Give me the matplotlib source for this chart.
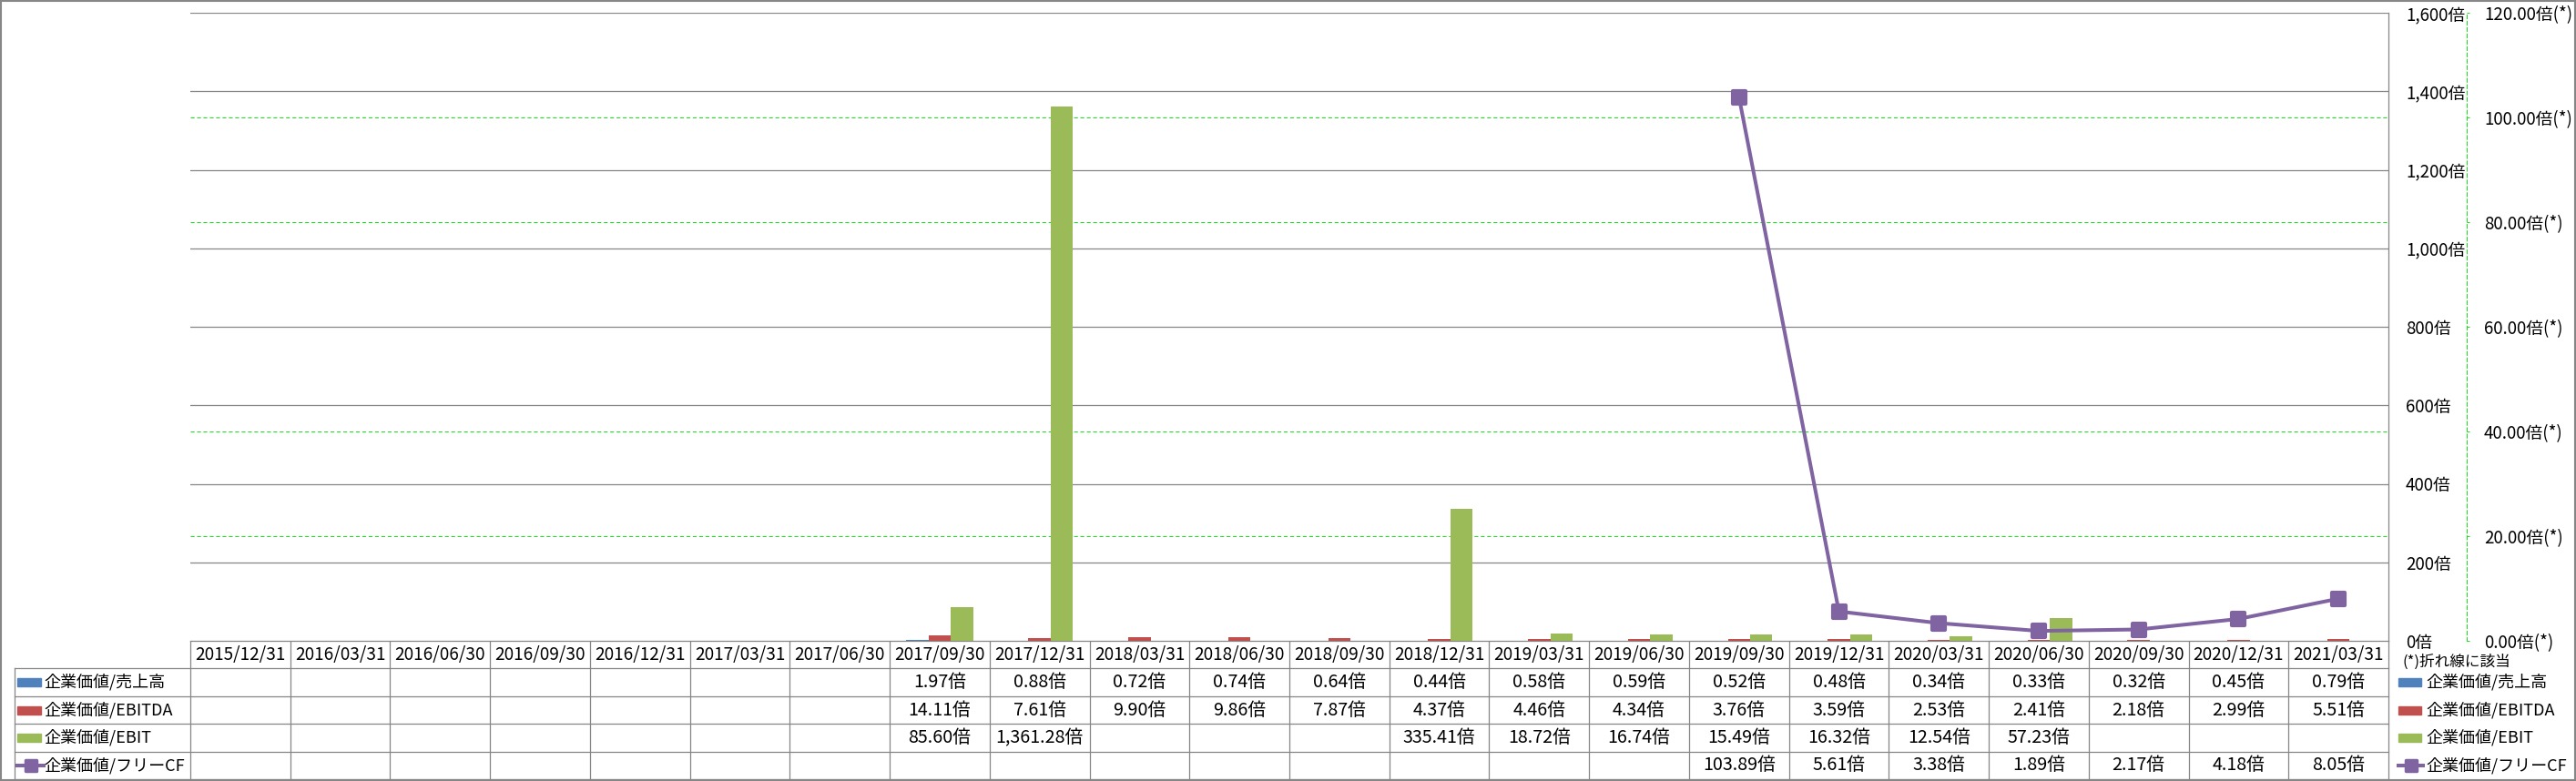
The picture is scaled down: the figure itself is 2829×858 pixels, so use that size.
import matplotlib
matplotlib.use("Agg")
import matplotlib.pyplot as plt
import numpy as np
from matplotlib.markers import MarkerStyle
from matplotlib.patches import Rectangle
from matplotlib.lines import Line2D
from matplotlib.ticker import FixedLocator, FuncFormatter

plt.rcParams['font.family'] = ['Noto Sans CJK JP', 'DejaVu Sans']

dates = ["2015/12/31", "2016/03/31", "2016/06/30", "2016/09/30", "2016/12/31",
         "2017/03/31", "2017/06/30", "2017/09/30", "2017/12/31", "2018/03/31",
         "2018/06/30", "2018/09/30", "2018/12/31", "2019/03/31", "2019/06/30",
         "2019/09/30", "2019/12/31", "2020/03/31", "2020/06/30", "2020/09/30",
         "2020/12/31", "2021/03/31"]
ev_sales = [None, None, None, None, None, None, None, 1.97, 0.88, 0.72, 0.74,
            0.64, 0.44, 0.58, 0.59, 0.52, 0.48, 0.34, 0.33, 0.32, 0.45, 0.79]
ev_ebitda = [None, None, None, None, None, None, None, 14.11, 7.61, 9.90, 9.86,
             7.87, 4.37, 4.46, 4.34, 3.76, 3.59, 2.53, 2.41, 2.18, 2.99, 5.51]
ev_ebit = [None, None, None, None, None, None, None, 85.60, 1361.28, None, None,
           None, 335.41, 18.72, 16.74, 15.49, 16.32, 12.54, 57.23, None, None, None]
ev_fcf = [None, None, None, None, None, None, None, None, None, None, None,
          None, None, None, None, 103.89, 5.61, 3.38, 1.89, 2.17, 4.18, 8.05]

names = ["企業価値/売上高", "企業価値/EBITDA", "企業価値/EBIT", "企業価値/フリーCF"]
colors = ["#4F81BD", "#C0504D", "#9BBB59", "#8064A2"]
grey = "#868686"
green = "#22DD22"

W, H = 2829, 858
fig = plt.figure(figsize=(W / 100, H / 100), dpi=100)

# plot area in pixels: x 209..2623, y 14..704
ax = fig.add_axes([209 / W, (H - 704) / H, (2623 - 209) / W, (704 - 14) / H])
ax2 = ax.twinx()
ax.set_zorder(1)
ax2.set_zorder(2)
ax2.patch.set_visible(False)

x = np.arange(len(dates))
w = 2 / 9
series = [np.array(s, dtype=float) for s in (ev_sales, ev_ebitda, ev_ebit, ev_fcf)]
for k in range(3):
    ax.bar(x + (k - 1) * w, series[k], w, color=colors[k], zorder=3)

square = MarkerStyle('s', joinstyle='round')
ax2.plot(x, series[3], color=colors[3], lw=2.9, marker=square, ms=10, mew=3,
         mec=colors[3], solid_joinstyle='round')

ax.set_xlim(-0.5, len(dates) - 0.5)
ax.set_ylim(0, 1600)
ax2.set_ylim(0, 120)
ax.set_yticks(np.arange(0, 1601, 200))
ax2.set_yticks(np.arange(0, 121, 20))
ax.yaxis.set_minor_locator(FixedLocator([v * 1600 / 120 for v in range(20, 120, 20)]))
ax.yaxis.tick_right()
ax.yaxis.set_major_formatter(FuncFormatter(lambda v, p: f"{v:,.0f}倍"))
ax2.yaxis.set_major_formatter(FuncFormatter(lambda v, p: f"{v:.2f}倍(*)"))
ax.grid(axis='y', which='major', color=grey, lw=0.9)
ax.grid(axis='y', which='minor', color=green, lw=0.75, linestyle=(0, (4, 2.7)))
ax.set_axisbelow(True)
ax.tick_params(axis='x', bottom=False, labelbottom=False)
ax.tick_params(axis='y', which='both', length=0, pad=13.7, labelsize=13.5)
for s in ('top', 'left', 'bottom'):
    ax.spines[s].set_visible(False)
    ax2.spines[s].set_visible(False)
ax.spines['right'].set_color(grey)
ax.spines['right'].set_linewidth(0.9)
ax2.spines['right'].set_position(('outward', 86 * 0.72))
ax2.spines['right'].set_color(green)
ax2.spines['right'].set_linewidth(0.75)
ax2.spines['right'].set_linestyle((0, (4, 2.7)))
ax2.tick_params(axis='y', length=2.2, color=green, width=0.75, pad=11.5, labelsize=13.5)

# data table below the plot, pixels x 16..2623, y 704..856
cw = (2623 - 209) / len(dates)
x0 = -0.5 - (209 - 16) / cw
tb = fig.add_axes([16 / W, (H - 856) / H, (2623 - 16) / W, (856 - 704) / H])
tb.set_xlim(x0, len(dates) - 0.5)
tb.set_ylim(5, 0)
tb.axis('off')
rh = (856 - 704) / 5

def px(xp):
    return x0 + (xp - 16) / cw

lk = dict(color=grey, lw=0.9, clip_on=False)
xe = len(dates) - 0.5
tb.plot([-0.5, xe], [0, 0], **lk)
for r in range(1, 6):
    tb.plot([x0, xe], [r, r], **lk)
for k in range(len(dates) + 1):
    tb.plot([k - 0.5, k - 0.5], [0, 5], **lk)
tb.plot([x0, x0], [1, 5], **lk)

for i, d in enumerate(dates):
    tb.text(i, 0.5, d, ha='center', va='center', fontsize=13.7)
for r, s in enumerate(series):
    for i, v in enumerate(s):
        if not np.isnan(v):
            tb.text(i, r + 1.5, f"{v:,.2f}倍", ha='center', va='center', fontsize=14.2)

def legend_key(xl, xr, y, k):
    if k < 3:
        tb.add_patch(Rectangle((px(xl), y - 4.5 / rh), (xr - xl) / cw, 9 / rh,
                               color=colors[k], clip_on=False))
    else:
        tb.add_line(Line2D([px(xl), px(xr)], [y, y], color=colors[k], lw=2.9,
                           clip_on=False))
        tb.plot([px((xl + xr) / 2)], [y], marker=square, ms=8, mew=2.5,
                color=colors[k], clip_on=False)

for r in range(4):
    y = r + 1.5
    legend_key(19, 45 if r < 3 else 48, y, r)
    tb.text(px(48), y, names[r], ha='left', va='center', fontsize=13)
    legend_key(2634, 2659 if r < 3 else 2661, y, r)
    tb.text(px(2664), y, names[r], ha='left', va='center', fontsize=13, clip_on=False)
tb.text(px(2638), (727 - 704) / rh, "(*)折れ線に該当", ha='left', va='center',
        fontsize=12, clip_on=False)

fig.add_artist(Rectangle((0.0004, 0.0012), 0.9992, 0.9976, transform=fig.transFigure,
                         fill=False, ec=grey, lw=1.5))

fig.savefig("out.png", dpi=100)
